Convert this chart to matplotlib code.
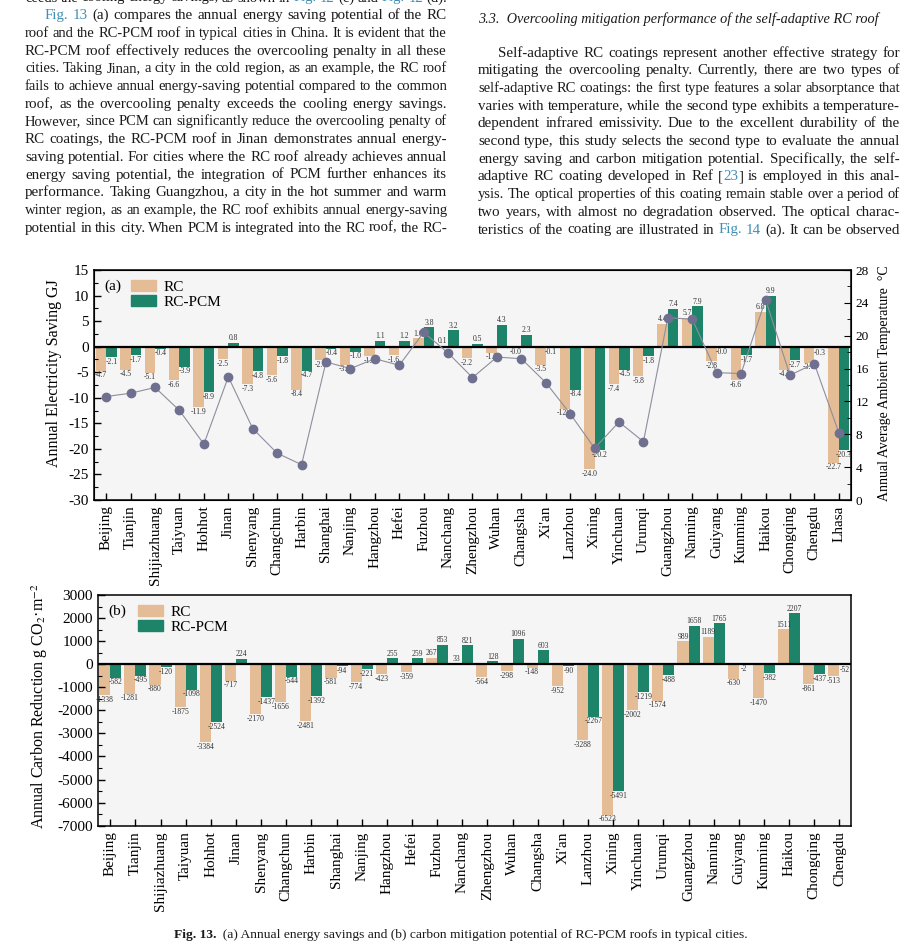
import re
import numpy as np
import matplotlib
matplotlib.use("Agg")
import matplotlib.pyplot as plt
from matplotlib.patches import Patch
from matplotlib.ticker import MultipleLocator

plt.rcParams['font.family'] = 'Liberation Serif'
plt.rcParams['mathtext.fontset'] = 'stix'
plt.rcParams['axes.unicode_minus'] = False

W, H = 906, 949

# ---- data ----
cities = ["Beijing", "Tianjin", "Shijiazhuang", "Taiyuan", "Hohhot", "Jinan",
          "Shenyang", "Changchun", "Harbin", "Shanghai", "Nanjing", "Hangzhou",
          "Hefei", "Fuzhou", "Nanchang", "Zhengzhou", "Wuhan", "Changsha",
          "Xi'an", "Lanzhou", "Xining", "Yinchuan", "Urumqi", "Guangzhou",
          "Nanning", "Guiyang", "Kunming", "Haikou", "Chongqing", "Chengdu",
          "Lhasa"]

# (a) annual electricity saving, GJ
rc_energy = [-4.7, -4.5, -5.1, -6.6, -11.9, -2.5, -7.3, -5.6, -8.4, -2.6, -3.5,
             -1.9, -1.6, 1.6, 0.1, -2.2, -1.2, -0.04, -3.5, -12.1, -24.0, -7.4,
             -5.8, 4.4, 5.7, -2.8, -6.6, 6.8, -4.5, -3.1, -22.7]
pcm_energy = [-2.1, -1.7, -0.4, -3.9, -8.9, 0.8, -4.8, -1.8, -4.7, -0.4, -1.0,
              1.1, 1.2, 3.8, 3.2, 0.5, 4.3, 2.3, -0.1, -8.4, -20.2, -4.5,
              -1.8, 7.4, 7.9, -0.04, -1.7, 9.9, -2.7, -0.3, -20.3]
temperature = [12.6, 13.0, 13.7, 10.9, 6.8, 15.0, 8.7, 5.7, 4.3, 16.8, 16.0,
               17.2, 16.4, 20.4, 17.9, 14.9, 17.4, 17.2, 14.3, 10.5, 6.3, 9.5,
               7.1, 22.2, 22.0, 15.5, 15.4, 24.4, 15.2, 16.6, 8.2]

# (b) annual carbon reduction, g CO2 / m2 (no Lhasa)
cities_b = cities[:-1]
rc_carbon = [-1338, -1281, -880, -1875, -3384, -717, -2170, -1656, -2481, -581,
             -774, -423, -359, 267, 33, -564, -298, -148, -952, -3288, -6523,
             -2002, -1574, 989, 1189, -630, -1470, 1511, -861, -513]
pcm_carbon = [-582, -495, -120, -1098, -2524, 224, -1437, -544, -1392, -94,
              -221, 255, 259, 853, 821, 128, 1096, 603, -90, -2267, -5491,
              -1219, -488, 1658, 1765, -2, -382, 2207, -437, -52]

left_lines = [
    "ceeds the cooling energy savings, as shown in {Fig.} {12} (c) and {Fig.} {12} (d).",
    "{Fig.} {13} (a) compares the annual energy saving potential of the RC",
    "roof and the RC-PCM roof in typical cities in China. It is evident that the",
    "RC-PCM roof effectively reduces the overcooling penalty in all these",
    "cities. Taking Jinan, a city in the cold region, as an example, the RC roof",
    "fails to achieve annual energy-saving potential compared to the common",
    "roof, as the overcooling penalty exceeds the cooling energy savings.",
    "However, since PCM can significantly reduce the overcooling penalty of",
    "RC coatings, the RC-PCM roof in Jinan demonstrates annual energy-",
    "saving potential. For cities where the RC roof already achieves annual",
    "energy saving potential, the integration of PCM further enhances its",
    "performance. Taking Guangzhou, a city in the hot summer and warm",
    "winter region, as an example, the RC roof exhibits annual energy-saving",
    "potential in this city. When PCM is integrated into the RC roof, the RC-",
]
right_heading = "3.3.  Overcooling mitigation performance of the self-adaptive RC roof"
right_lines = [
    "Self-adaptive RC coatings represent another effective strategy for",
    "mitigating the overcooling penalty. Currently, there are two types of",
    "self-adaptive RC coatings: the first type features a solar absorptance that",
    "varies with temperature, while the second type exhibits a temperature-",
    "dependent infrared emissivity. Due to the excellent durability of the",
    "second type, this study selects the second type to evaluate the annual",
    "energy saving and carbon mitigation potential. Specifically, the self-",
    "adaptive RC coating developed in Ref [{23}] is employed in this anal-",
    "ysis. The optical properties of this coating remain stable over a period of",
    "two years, with almost no degradation observed. The optical charac-",
    "teristics of the coating are illustrated in {Fig.} {14} (a). It can be observed",
]

RC_COLOR = '#E4BC95'
PCM_COLOR = '#1E8469'
LINK = '#3F8FB5'

fig = plt.figure(figsize=(9.06, 9.49), dpi=100, facecolor='white')
renderer = fig.canvas.get_renderer()


def put_line(x0, x1, yc, line, size=10.8):
    items = []
    for word in line.split(' '):
        objs = []
        for p in re.split(r'(\{[^}]*\})', word):
            if not p:
                continue
            col = LINK if p.startswith('{') else '#1a1a1a'
            objs.append(fig.text(0, 0, p.strip('{}'), color=col, fontsize=size))
        items.append(objs)
    n = len(items)

    def measure():
        ws = [[t.get_window_extent(renderer).width for t in objs] for objs in items]
        return ws, sum(sum(w) for w in ws)

    widths, total = measure()
    min_gap = 0.22 * size * 100 / 72
    if total + (n - 1) * min_gap > x1 - x0:
        size = size * (x1 - x0 - (n - 1) * min_gap) / total
        for objs in items:
            for t in objs:
                t.set_fontsize(size)
        widths, total = measure()
    gap = (x1 - x0 - total) / (n - 1)
    x = x0
    for objs, ws in zip(items, widths):
        for t, wd in zip(objs, ws):
            t.set_position((x / W, 1 - (yc + 3.5) / H))
            x += wd
        x += gap


for i, line in enumerate(left_lines):
    yc = -2 if i == 0 else 15.7 + 17.7 * (i - 1)
    put_line(45 if i == 1 else 25, 447, yc, line)

fig.text(478 / W, 1 - (19 + 3.8) / H, right_heading, fontsize=10.3,
         style='italic', color='#1a1a1a')
for i, line in enumerate(right_lines):
    put_line(498 if i == 0 else 478, 900, 53.3 + 17.67 * i, line)


def style_axis(ax):
    ax.set_facecolor('#f5f5f5')
    for s in ax.spines.values():
        s.set_linewidth(1.1)
    ax.tick_params(axis='both', which='both', direction='in', labelsize=11)
    ax.tick_params(axis='x', length=5, width=1, top=False, pad=4)
    ax.tick_params(axis='y', which='major', length=5, width=1)
    ax.tick_params(axis='y', which='minor', length=3, width=0.8)


def value_labels(ax, xs, vals, fmt):
    for xv, v in zip(xs, vals):
        if v >= 0:
            ax.annotate(fmt % v, (xv, v), xytext=(0, 0.5), textcoords='offset points',
                        ha='center', va='bottom', fontsize=5.5, color='#333333')
        else:
            ax.annotate(fmt % v, (xv, v), xytext=(0, -0.5), textcoords='offset points',
                        ha='center', va='top', fontsize=5.5, color='#333333')


# ---- (a) ----
ax1 = fig.add_axes([94 / W, 1 - 500 / H, (851 - 94) / W, 230 / H])
x = np.arange(len(cities))
bw = 0.43
ax1.bar(x - bw, rc_energy, bw, align='edge', color=RC_COLOR)
ax1.bar(x, pcm_energy, bw, align='edge', color=PCM_COLOR)
ax1.axhline(0, color='black', lw=1.6)
value_labels(ax1, x - bw / 2, rc_energy, '%.1f')
value_labels(ax1, x + bw / 2, pcm_energy, '%.1f')
ax1.set_xlim(-0.5, len(cities) - 0.5)
ax1.set_ylim(-30, 15)
ax1.set_yticks(np.arange(-30, 16, 5))
ax1.yaxis.set_minor_locator(MultipleLocator(2.5))
ax1.set_xticks(x)
ax1.set_xticklabels(cities, rotation=90, fontsize=11.5)
style_axis(ax1)
ax1.set_ylabel("Annual Electricity Saving GJ", fontsize=11.5)
ax1.yaxis.set_label_coords(-0.042, 0.55)
ax1.text(0.014, 0.93, "(a)", transform=ax1.transAxes, fontsize=11, va='center')
ax1.legend(handles=[Patch(color=RC_COLOR, label='RC'), Patch(color=PCM_COLOR, label='RC-PCM')],
           loc='upper left', bbox_to_anchor=(0.045, 0.97), frameon=False, fontsize=11,
           handlelength=1.6, handleheight=0.7, handletextpad=0.5, labelspacing=0.1,
           borderaxespad=0, borderpad=0.2)

ax1t = ax1.twinx()
ax1t.plot(x, temperature, '-', color='#8e8e9e', lw=0.8, zorder=3)
ax1t.plot(x, temperature, 'o', color='#6f6f8f', ms=6, zorder=4)
ax1t.set_ylim(0, 28)
ax1t.set_yticks(np.arange(0, 29, 4))
ax1t.yaxis.set_minor_locator(MultipleLocator(2))
ax1t.tick_params(axis='y', which='both', direction='in', labelsize=9.5)
ax1t.tick_params(axis='y', which='major', length=5)
ax1t.tick_params(axis='y', which='minor', length=3)
ax1t.set_ylabel("Annual Average Ambient Temperature  °C", fontsize=10)
ax1t.yaxis.set_label_coords(1.036, 0.51)

# ---- (b) ----
ax2 = fig.add_axes([97.7 / W, 1 - 825.7 / H, (850.7 - 97.7) / W, 230.7 / H])
xb = np.arange(len(cities_b))
bw2 = 0.44
ax2.bar(xb - bw2, rc_carbon, bw2, align='edge', color=RC_COLOR)
ax2.bar(xb, pcm_carbon, bw2, align='edge', color=PCM_COLOR)
ax2.axhline(0, color='black', lw=1.6)
value_labels(ax2, xb - bw2 / 2, rc_carbon, '%d')
value_labels(ax2, xb + bw2 / 2, pcm_carbon, '%d')
ax2.set_xlim(-0.5, len(cities_b) - 0.55)
ax2.set_ylim(-7000, 3000)
ax2.set_yticks(np.arange(-7000, 3001, 1000))
ax2.yaxis.set_minor_locator(MultipleLocator(500))
ax2.set_xticks(xb)
ax2.set_xticklabels(cities_b, rotation=90, fontsize=11.5)
style_axis(ax2)
ax2.set_ylabel("Annual Carbon Reduction g CO$_2$·m$^{-2}$", fontsize=11.5)
ax2.yaxis.set_label_coords(-0.064, 0.52)
ax2.text(0.014, 0.93, "(b)", transform=ax2.transAxes, fontsize=11, va='center')
ax2.legend(handles=[Patch(color=RC_COLOR, label='RC'), Patch(color=PCM_COLOR, label='RC-PCM')],
           loc='upper left', bbox_to_anchor=(0.05, 0.97), frameon=False, fontsize=11,
           handlelength=1.6, handleheight=0.7, handletextpad=0.5, labelspacing=0.1,
           borderaxespad=0, borderpad=0.2)

# ---- caption ----
cap1 = fig.text(0, 1 - 938 / H, "Fig. 13.", fontsize=9.7, weight='bold', color='#1a1a1a')
cap2 = fig.text(0, 1 - 938 / H,
                "  (a) Annual energy savings and (b) carbon mitigation potential of RC-PCM roofs in typical cities.",
                fontsize=9.7, color='#1a1a1a')
w1 = cap1.get_window_extent(renderer).width
w2 = cap2.get_window_extent(renderer).width
start = 461 - (w1 + w2) / 2
cap1.set_x(start / W)
cap2.set_x((start + w1) / W)

fig.savefig("out.png", dpi=100)
